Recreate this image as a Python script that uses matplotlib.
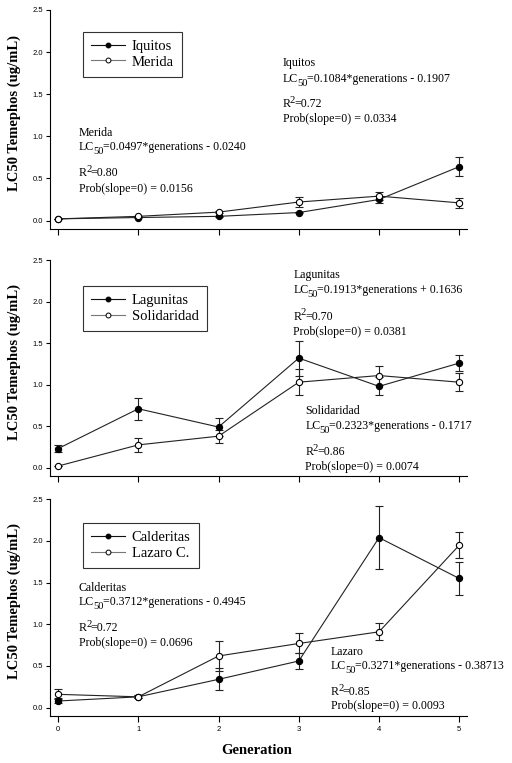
import numpy as np
import matplotlib
matplotlib.use("Agg")
import matplotlib.pyplot as plt
from matplotlib.lines import Line2D

generations = [0, 1, 2, 3, 4, 5]

# panel 1
iquitos = [0.02, 0.036, 0.05, 0.095, 0.25, 0.64]
iquitos_err = [0.0, 0.01, 0.01, 0.01, 0.04, 0.11]
merida = [0.02, 0.05, 0.10, 0.22, 0.29, 0.21]
merida_err = [0.0, 0.01, 0.01, 0.06, 0.05, 0.06]

# panel 2
lagunitas = [0.23, 0.71, 0.49, 1.32, 0.98, 1.26]
lagunitas_err = [0.045, 0.13, 0.11, 0.21, 0.11, 0.10]
solidaridad = [0.02, 0.275, 0.38, 1.03, 1.11, 1.03]
solidaridad_err = [0.0, 0.08, 0.08, 0.16, 0.11, 0.11]

# panel 3
calderitas = [0.08, 0.13, 0.34, 0.56, 2.04, 1.55]
calderitas_err = [0.03, 0.02, 0.13, 0.10, 0.38, 0.20]
lazaro = [0.16, 0.13, 0.62, 0.77, 0.91, 1.95]
lazaro_err = [0.06, 0.02, 0.18, 0.12, 0.10, 0.16]

panels = [
    (("Iquitos", iquitos, iquitos_err), ("Merida", merida, merida_err)),
    (("Lagunitas", lagunitas, lagunitas_err), ("Solidaridad", solidaridad, solidaridad_err)),
    (("Calderitas", calderitas, calderitas_err), ("Lazaro C.", lazaro, lazaro_err)),
]

# regression annotations: (x, [y of each line], name, equation, r2, prob)
notes = [
    [(2.80, [1.87, 1.68, 1.38, 1.20], "Iquitos", "=0.1084*generations - 0.1907", "=0.72", "Prob(slope=0) = 0.0334"),
     (0.26, [1.04, 0.87, 0.56, 0.38], "Merida", "=0.0497*generations - 0.0240", "=0.80", "Prob(slope=0) = 0.0156")],
    [(2.93, [2.32, 2.14, 1.82, 1.64], "Lagunitas", "=0.1913*generations + 0.1636", "=0.70", "Prob(slope=0) = 0.0381"),
     (3.08, [0.68, 0.50, 0.19, 0.01], "Solidaridad", "=0.2323*generations - 0.1717", "=0.86", "Prob(slope=0) = 0.0074")],
    [(0.26, [1.44, 1.27, 0.95, 0.78], "Calderitas", "=0.3712*generations - 0.4945", "=0.72", "Prob(slope=0) = 0.0696"),
     (3.40, [0.67, 0.50, 0.19, 0.02], "Lazaro", "=0.3271*generations - 0.38713", "=0.85", "Prob(slope=0) = 0.0093")],
]

serif = ['Liberation Serif', 'DejaVu Serif']
note_size = 8.6


def scripted(ax, x, y, base, script, rest, shift):
    """base text, then a near full size sub/superscript, then the rest on the base line"""
    t1 = ax.text(x, y, base, fontsize=note_size, family=serif, va='center', ha='left')
    t2 = ax.annotate(script, xy=(1, 0), xycoords=t1, xytext=(-0.6, shift),
                     textcoords='offset points', fontsize=note_size * 0.88,
                     family=serif, va='bottom', ha='left')
    ax.annotate(rest, xy=(1, 0), xycoords=(t2, t1), xytext=(-0.4, 0),
                textcoords='offset points', fontsize=note_size, family=serif,
                va='bottom', ha='left')


fig = plt.figure(figsize=(5.12, 7.63), dpi=100)
boxes = [(0.0977, 0.6999, 0.815, 0.287),
         (0.0977, 0.3761, 0.815, 0.283),
         (0.0977, 0.0616, 0.815, 0.284)]
legend_y = [0.90, 0.88, 0.89]

for i, (box, series) in enumerate(zip(boxes, panels)):
    ax = fig.add_axes(box)
    handles = []
    for (name, vals, errs), face, lcol in zip(series, ['black', 'white'], ['#111111', '#777777']):
        ax.errorbar(generations, vals, yerr=errs, fmt='-o', color='#222222', lw=0.8,
                    markersize=4.5, markerfacecolor=face, markeredgecolor='black',
                    markeredgewidth=0.8, elinewidth=0.8, capsize=2.8, capthick=0.8)
        handles.append(Line2D([], [], color=lcol, lw=0.8, marker='o', markersize=3.5,
                              markerfacecolor=face, markeredgecolor='black',
                              markeredgewidth=0.7, label=name))
    ax.set_xlim(-0.1, 5.1)
    ax.set_ylim(-0.1, 2.5)
    ax.set_yticks([0.0, 0.5, 1.0, 1.5, 2.0, 2.5])
    ax.set_yticklabels(["0.0", "0.5", "1.0", "1.5", "2.0", "2.5"])
    ax.set_xticks(generations)
    ax.spines['top'].set_visible(False)
    ax.spines['right'].set_visible(False)
    for s in ['left', 'bottom']:
        ax.spines[s].set_linewidth(0.8)
    ax.tick_params(axis='y', direction='out', length=3, width=0.8, pad=2,
                   labelsize=5.5, labelfontfamily='Liberation Sans')
    ax.tick_params(axis='x', direction='out', length=4.5, width=0.8, pad=3,
                   labelsize=5.5, labelfontfamily='Liberation Sans')
    if i < 2:
        ax.set_xticklabels([])
    ax.set_ylabel("LC50 Temephos (ug/mL)", fontsize=10.5, fontweight='bold', family=serif)
    ax.yaxis.set_label_coords(-0.069, 0.53)

    leg = ax.legend(handles=handles, loc='upper left', bbox_to_anchor=(0.079, legend_y[i]),
                    prop={'family': serif, 'size': 10.5}, fancybox=False,
                    edgecolor='#333333', framealpha=1, handlelength=2.3,
                    borderpad=0.55, labelspacing=0.15, handletextpad=0.5,
                    borderaxespad=0)
    leg.get_frame().set_linewidth(0.8)

    for x, ys, name, eq, r2, prob in notes[i]:
        ax.text(x, ys[0], name, fontsize=note_size, family=serif, va='center', ha='left')
        scripted(ax, x, ys[1], "LC", "50", eq, -2.2)
        scripted(ax, x, ys[2], "R", "2", r2, 3.8)
        ax.text(x, ys[3], prob, fontsize=note_size, family=serif, va='center', ha='left')

fig.text(0.502, 0.017, "Generation", ha='center', va='center',
         fontsize=10.5, fontweight='bold', family=serif)

fig.savefig("out.png", dpi=100)
